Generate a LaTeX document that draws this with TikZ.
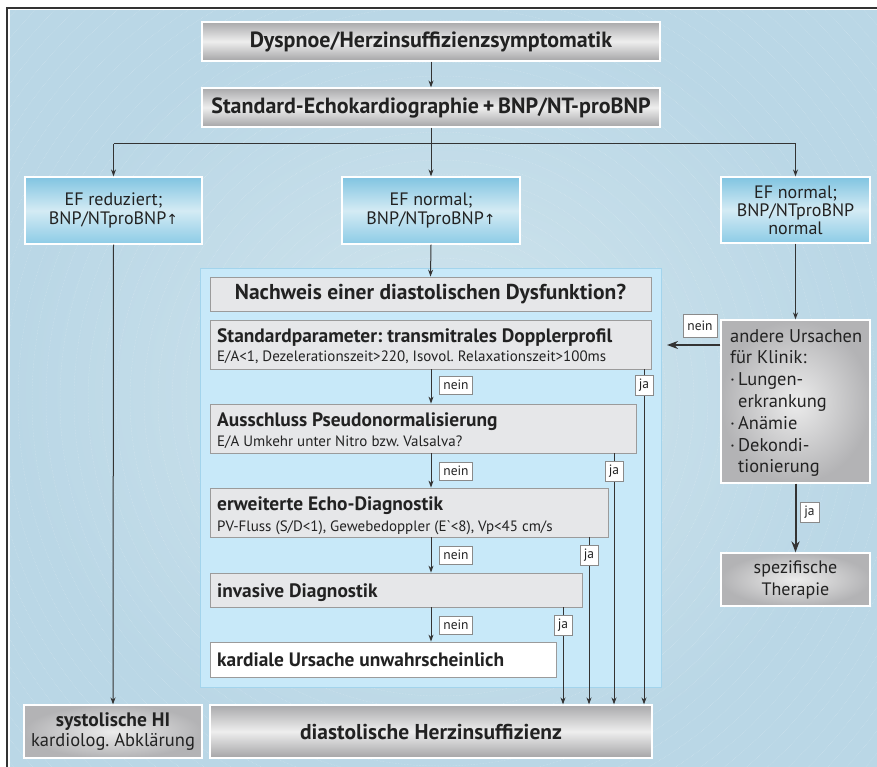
\documentclass[tikz,border=0pt]{standalone}
\usepackage{fontspec}
\setmainfont{PT Sans}
\newfontfamily\symf{DejaVu Sans}
\usetikzlibrary{arrows.meta}
\frenchspacing
\definecolor{bgin}{HTML}{D1E5ED}
\definecolor{bgout}{HTML}{BAD7E6}
\definecolor{frame}{HTML}{333333}
\definecolor{txt}{HTML}{222222}
\definecolor{gfill}{HTML}{E6E7E9}
\definecolor{gline}{HTML}{9B9B9B}
\definecolor{efTop}{HTML}{80C4E1}
\definecolor{efMid}{HTML}{D4EBF4}
\definecolor{efBot}{HTML}{8CCBE6}
\definecolor{mTop}{HTML}{A9A9AB}
\definecolor{mMid}{HTML}{EEEEEE}
\definecolor{mBot}{HTML}{A4A4A6}
\definecolor{rIn}{HTML}{ECECEC}
\definecolor{rOut}{HTML}{B3B3B5}
\definecolor{contf}{HTML}{C8E9F9}
\definecolor{contb}{HTML}{A3D4EC}
\definecolor{conn}{HTML}{333333}
\definecolor{lblb}{HTML}{8A8A8A}
\tikzset{
  metal/.style={draw=white, line width=1.2pt, top color=mTop, bottom color=mBot, middle color=mMid, inner sep=0pt, text=txt},
  efbox/.style={draw=white, line width=1.2pt, top color=efTop, bottom color=efBot, middle color=efMid, inner sep=0pt, align=center, text=txt, font=\fontsize{18}{18.5}\selectfont},
  rgray/.style={draw=white, line width=1.2pt, inner color=rIn, outer color=rOut, inner sep=0pt, text=txt},
  gbox/.style={draw=gline, line width=0.8pt, fill=gfill, inner sep=0pt, text=txt},
  wbox/.style={draw=gline, line width=0.8pt, fill=white, inner sep=0pt, text=txt},
  ttl/.style={anchor=base west, inner sep=0pt, text=txt, font=\fontsize{19.4}{21}\selectfont\bfseries},
  sub/.style={anchor=base west, inner sep=0pt, text=txt, font=\fontsize{15}{17}\selectfont},
  lbl/.style={draw=lblb, line width=0.6pt, fill=white, inner sep=0pt, minimum height=18pt, text=txt, font=\fontsize{13.5}{15}\selectfont},
  thin/.style={draw=conn, line width=1pt, -{Stealth[length=7pt,width=5pt]}},
  thinline/.style={draw=conn, line width=1pt},
  thick/.style={draw=conn, line width=2pt, -{Stealth[length=11pt,width=8pt]}},
}
\begin{document}
\begin{tikzpicture}[x=1pt,y=-1pt]
\useasboundingbox (0,0) rectangle (877,767);
\fill[white] (0,0) rectangle (877,767);
\shade[inner color=bgin, outer color=bgout] (10,11) rectangle (877,767);
\begin{scope}
  \clip (10,11) rectangle (877,767);
  \foreach \r in {100,114,...,820}
    \draw[white, opacity=0.3, line width=0.5pt, densely dotted] (440,400) circle[radius=\r];
\end{scope}
\draw[frame, line width=1.5pt] (877,8) -- (7,8) -- (7,767);

% container
\node[draw=contb, line width=0.8pt, fill=contf, minimum width=461pt, minimum height=419pt, inner sep=0pt] (cont) at (430.5,477.5) {};

% top boxes
\node[metal, minimum width=458pt, minimum height=39pt, font=\fontsize{22}{24}\selectfont\bfseries] (dys) at (431,41.5) {Dyspnoe/Herzinsuffizienzsymptomatik};
\node[metal, minimum width=458pt, minimum height=39pt, font=\fontsize{22}{24}\selectfont\bfseries] (echo) at (431,107.5) {Standard-Echokardiographie\,+\,BNP/NT-proBNP};

% EF boxes
\node[efbox, minimum width=177pt, minimum height=67pt] (efl) at (113.5,210.5) {EF reduziert;\\BNP/NTproBNP{\symf\fontsize{14}{15}\selectfont ↑}};
\node[efbox, minimum width=178pt, minimum height=67pt] (efm) at (431,210.5) {EF normal;\\BNP/NTproBNP{\symf\fontsize{14}{15}\selectfont ↑}};
\node[efbox, minimum width=149pt, minimum height=66pt, font=\fontsize{18}{18}\selectfont] (efr) at (795.5,210) {EF normal;\\BNP/NTproBNP\\normal};

% inner boxes
\node[gbox, minimum width=441pt, minimum height=34pt, font=\fontsize{21.5}{23}\selectfont\bfseries] (nach) at (430.5,294) {Nachweis einer diastolischen Dysfunktion?};
\node[gbox, minimum width=441pt, minimum height=49pt] (std) at (430.5,344.5) {};
\node[ttl] (stdT) at (217,342) {Standardparameter: transmitrales Dopplerprofil};
\node[sub] (stdS) at (217,361) {E/A<1, Dezelerationszeit>220, Isovol. Relaxationszeit>100ms};
\node[gbox, minimum width=426pt, minimum height=49pt] (aus) at (423,428.5) {};
\node[ttl] (ausT) at (217,426) {Ausschluss Pseudonormalisierung};
\node[sub] (ausS) at (217,446) {E/A Umkehr unter Nitro bzw. Valsalva?};
\node[gbox, minimum width=398pt, minimum height=49pt] (erw) at (409,512.5) {};
\node[ttl] (erwT) at (217,510) {erweiterte Echo-Diagnostik};
\node[sub] (erwS) at (217,531) {PV-Fluss (S/D<1), Gewebedoppler (E\textasciigrave<8), Vp<45 cm/s};
\node[gbox, minimum width=372pt, minimum height=34pt] (inv) at (396,590) {};
\node[ttl] (invT) at (217,597) {invasive Diagnostik};
\node[wbox, minimum width=346pt, minimum height=35pt] (kard) at (383,659.5) {};
\node[ttl] (kardT) at (217,666) {kardiale Ursache unwahrscheinlich};

% bottom boxes
\node[metal, minimum width=442pt, minimum height=53pt, font=\fontsize{21.5}{23}\selectfont\bfseries] (dia) at (431,731.5) {diastolische Herzinsuffizienz};
\node[rgray, minimum width=178pt, minimum height=53pt, align=center, font=\fontsize{18.5}{20}\selectfont] (sys) at (113,731.5) {{\fontsize{19.5}{20}\selectfont\bfseries systolische HI}\\kardiolog. Abklärung};

% right column
\node[rgray, minimum width=149pt, minimum height=163pt] (and) at (795.5,401.5) {};
\node[anchor=north west, align=left, inner sep=0pt, text=txt, font=\fontsize{18.4}{21.8}\selectfont] (andT) at (730,329) {andere Ursachen\\für Klinik:\\·\,Lungen-\\\phantom{·\,}erkrankung\\·\,Anämie\\·\,Dekondi-\\\phantom{·\,}tionierung};
\node[rgray, minimum width=149pt, minimum height=53pt, align=center, font=\fontsize{18}{22}\selectfont] (spez) at (795.5,579.5) {spezifische\\Therapie};

% connectors top
\draw[thin] (dys.south) -- (echo.north);
\coordinate (br) at (431,144);
\draw[thinline] (echo.south) -- (br);
\draw[thinline] (br -| efl) -- (br -| efr);
\draw[thin] (br -| efl) -- (efl.north);
\draw[thin] (br) -- (efm.north);
\draw[thin] (br -| efr) -- (efr.north);
\draw[thin] (efl.south) -- (sys.north);
\draw[thin] (efm.south) -- (nach.north);
\draw[thin] (efr.south) -- (and.north);

% nein chain
\coordinate (mx) at (431,0);
\draw[thin] (std.south -| mx) -- (aus.north -| mx);
\draw[thin] (aus.south -| mx) -- (erw.north -| mx);
\draw[thin] (erw.south -| mx) -- (inv.north -| mx);
\draw[thin] (inv.south -| mx) -- (kard.north -| mx);

% ja lines
\coordinate (j1) at (644,0);
\coordinate (j2) at (614,0);
\coordinate (j3) at (589,0);
\coordinate (j4) at (563,0);
\draw[thin] (std.south -| j1) -- (dia.north -| j1);
\draw[thin] (aus.south -| j2) -- (dia.north -| j2);
\draw[thin] (erw.south -| j3) -- (dia.north -| j3);
\draw[thin] (inv.south -| j4) -- (dia.north -| j4);

% right arrows
\coordinate (nt) at (667,345);
\draw[thick] (and.west |- nt) -- (nt);
\draw[thick] (and.south) -- (spez.north);

% labels
\node[lbl, minimum width=33pt] (n1) at (456,385) {nein};
\node[lbl, minimum width=33pt] (n2) at (456,471) {nein};
\node[lbl, minimum width=33pt] (n3) at (456,555) {nein};
\node[lbl, minimum width=33pt] (n4) at (456,625) {nein};
\node[lbl, minimum width=18pt, minimum height=20pt] (y1) at (644,385) {ja};
\node[lbl, minimum width=18pt, minimum height=20pt] (y2) at (614,471) {ja};
\node[lbl, minimum width=18pt, minimum height=20pt] (y3) at (589,555) {ja};
\node[lbl, minimum width=18pt, minimum height=20pt] (y4) at (563,625) {ja};
\node[lbl, minimum width=34pt, minimum height=23pt] (nr) at (700,325.5) {nein};
\node[lbl, minimum width=19pt, minimum height=20pt] (yr) at (809.5,512) {ja};
\end{tikzpicture}
\end{document}
